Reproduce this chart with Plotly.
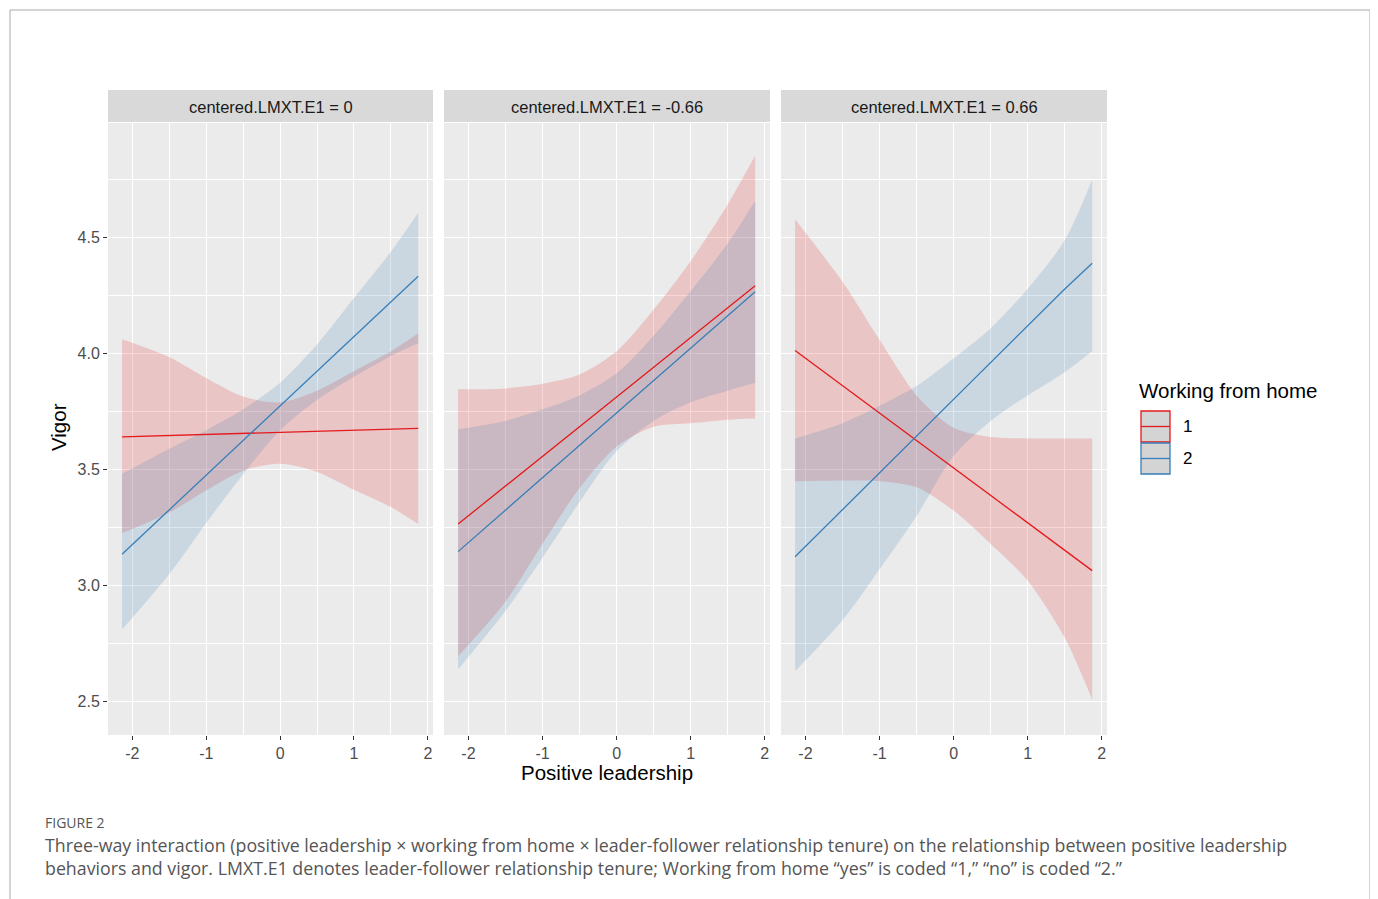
import plotly.graph_objects as go

# ---------------- data ----------------
x_vals = [-2.14, -1.5, -1.0, -0.5, 0.0, 0.5, 1.0, 1.5, 1.87]
panel_labels = ["centered.LMXT.E1 = 0", "centered.LMXT.E1 = -0.66", "centered.LMXT.E1 = 0.66"]
groups = ["1", "2"]

p1_red_fit = [3.641, 3.647, 3.651, 3.656, 3.660, 3.665, 3.669, 3.674, 3.678]
p1_red_lo = [3.225, 3.315, 3.410, 3.495, 3.525, 3.490, 3.413, 3.338, 3.265]
p1_red_hi = [4.062, 3.985, 3.895, 3.815, 3.790, 3.840, 3.925, 4.010, 4.088]
p1_blue_fit = [3.135, 3.326, 3.476, 3.625, 3.774, 3.923, 4.073, 4.222, 4.334]
p1_blue_lo = [2.810, 3.050, 3.270, 3.480, 3.670, 3.800, 3.900, 3.990, 4.045]
p1_blue_hi = [3.482, 3.590, 3.670, 3.760, 3.875, 4.040, 4.240, 4.440, 4.608]

p2_red_fit = [3.265, 3.428, 3.557, 3.685, 3.813, 3.941, 4.070, 4.198, 4.293]
p2_red_lo = [2.695, 2.930, 3.180, 3.420, 3.600, 3.685, 3.700, 3.715, 3.720]
p2_red_hi = [3.846, 3.850, 3.870, 3.910, 4.010, 4.190, 4.400, 4.645, 4.855]
p2_blue_fit = [3.146, 3.325, 3.465, 3.605, 3.745, 3.885, 4.025, 4.164, 4.267]
p2_blue_lo = [2.638, 2.890, 3.120, 3.360, 3.580, 3.710, 3.790, 3.840, 3.874]
p2_blue_hi = [3.674, 3.710, 3.760, 3.820, 3.915, 4.077, 4.270, 4.476, 4.660]

p3_red_fit = [4.014, 3.862, 3.743, 3.624, 3.505, 3.386, 3.268, 3.149, 3.064]
p3_red_lo = [3.450, 3.453, 3.450, 3.424, 3.323, 3.179, 3.020, 2.774, 2.507]
p3_red_hi = [4.580, 4.310, 4.060, 3.820, 3.680, 3.640, 3.634, 3.634, 3.634]
p3_blue_fit = [3.124, 3.327, 3.486, 3.644, 3.803, 3.962, 4.120, 4.279, 4.390]
p3_blue_lo = [2.630, 2.850, 3.070, 3.300, 3.560, 3.710, 3.820, 3.920, 4.010]
p3_blue_hi = [3.634, 3.700, 3.775, 3.860, 3.980, 4.110, 4.280, 4.490, 4.750]

x_ticks = [-2, -1, 0, 1, 2]
y_ticks = [2.5, 3.0, 3.5, 4.0, 4.5]
y_tick_labels = ["2.5", "3.0", "3.5", "4.0", "4.5"]

panels = [
    (p1_red_fit, p1_red_lo, p1_red_hi, p1_blue_fit, p1_blue_lo, p1_blue_hi),
    (p2_red_fit, p2_red_lo, p2_red_hi, p2_blue_fit, p2_blue_lo, p2_blue_hi),
    (p3_red_fit, p3_red_lo, p3_red_hi, p3_blue_fit, p3_blue_lo, p3_blue_hi),
]

# ---------------- styling ----------------
OFF = 8            # page body margin in the browser
W, H = 1378 - OFF, 899 - OFF
RED = "#E41A1C"
BLUE = "#377EB8"
RED_FILL = "rgba(228,26,28,0.18)"
BLUE_FILL = "rgba(55,126,184,0.18)"
FONT = "Liberation Sans, Arial, sans-serif"


def px(x):
    return (x - OFF) / W


def py(y):
    return 1 - (y - OFF) / H


panel_x = [(108, 433), (444, 770), (781, 1107)]
panel_top, panel_bot = 123, 735
strip_top = 90

fig = go.Figure()

for i, (rf, rlo, rhi, bf, blo, bhi) in enumerate(panels):
    ax = "" if i == 0 else str(i + 1)
    xa, ya = "x" + ax, "y" + ax
    for lo, hi, fill in [(rlo, rhi, RED_FILL), (blo, bhi, BLUE_FILL)]:
        fig.add_trace(go.Scatter(x=x_vals, y=lo, xaxis=xa, yaxis=ya, mode="lines",
                                 line=dict(width=0, shape="spline", smoothing=0.8),
                                 showlegend=False, hoverinfo="skip"))
        fig.add_trace(go.Scatter(x=x_vals, y=hi, xaxis=xa, yaxis=ya, mode="lines",
                                 line=dict(width=0, shape="spline", smoothing=0.8),
                                 fill="tonexty", fillcolor=fill,
                                 showlegend=False, hoverinfo="skip"))
    for fit, col, name in [(rf, RED, groups[0]), (bf, BLUE, groups[1])]:
        fig.add_trace(go.Scatter(x=x_vals, y=fit, xaxis=xa, yaxis=ya, mode="lines",
                                 line=dict(color=col, width=1.3), name=name,
                                 showlegend=False))

axis_common = dict(showgrid=True, gridcolor="white", gridwidth=1.4, zeroline=False,
                   showline=False, ticks="outside", ticklen=4, tickcolor="#333333",
                   tickwidth=1, tickfont=dict(family=FONT, size=16, color="#4D4D4D"))

layout = dict(width=W, height=H, margin=dict(l=0, r=0, t=0, b=0),
              paper_bgcolor="white", plot_bgcolor="#EBEBEB", showlegend=False,
              font=dict(family=FONT))

for i, (x0, x1) in enumerate(panel_x):
    ax = "" if i == 0 else str(i + 1)
    layout["xaxis" + ax] = dict(axis_common, domain=[px(x0), px(x1)], range=[-2.33, 2.07],
                                tickvals=x_ticks, ticktext=[str(t) for t in x_ticks],
                                anchor="y" + ax,
                                minor=dict(dtick=0.5, tick0=0, showgrid=True,
                                           gridcolor="white", gridwidth=0.7, ticks=""))
    layout["yaxis" + ax] = dict(axis_common, domain=[py(panel_bot), py(panel_top)],
                                range=[2.355, 4.995], tickvals=y_ticks,
                                ticktext=y_tick_labels, showticklabels=(i == 0),
                                ticks="outside" if i == 0 else "",
                                anchor="x" + ax,
                                minor=dict(dtick=0.25, tick0=0, showgrid=True,
                                           gridcolor="white", gridwidth=0.7, ticks=""))

fig.update_layout(**layout)

shapes = []
annotations = []

# facet strips
for i, (x0, x1) in enumerate(panel_x):
    shapes.append(dict(type="rect", xref="paper", yref="paper", x0=px(x0), x1=px(x1),
                       y0=py(panel_top - 1), y1=py(strip_top), fillcolor="#D9D9D9",
                       line=dict(width=0), layer="below"))
    annotations.append(dict(xref="paper", yref="paper", x=px((x0 + x1) / 2),
                            y=py((strip_top + panel_top) / 2), text=panel_labels[i],
                            showarrow=False, xanchor="center", yanchor="middle",
                            font=dict(family=FONT, size=16.5, color="#1A1A1A")))

# axis titles
annotations.append(dict(xref="paper", yref="paper", x=px(607), y=py(772),
                        text="Positive leadership", showarrow=False,
                        xanchor="center", yanchor="middle",
                        font=dict(family=FONT, size=20.5, color="#000000")))
annotations.append(dict(xref="paper", yref="paper", x=px(58), y=py(427),
                        text="Vigor", showarrow=False, textangle=-90,
                        xanchor="center", yanchor="middle",
                        font=dict(family=FONT, size=20.5, color="#000000")))

# legend (drawn manually, ggplot style)
annotations.append(dict(xref="paper", yref="paper", x=px(1137), y=py(391),
                        text="Working from home", showarrow=False,
                        xanchor="left", yanchor="middle",
                        font=dict(family=FONT, size=20.5, color="#000000")))
for k, (col, lab) in enumerate([(RED, groups[0]), (BLUE, groups[1])]):
    y0 = 411 + k * 32
    y1 = y0 + 31
    shapes.append(dict(type="rect", xref="paper", yref="paper", x0=px(1141), x1=px(1170),
                       y0=py(y1), y1=py(y0), fillcolor="#D4D4D4",
                       line=dict(color=col, width=1.3), opacity=1))
    shapes.append(dict(type="line", xref="paper", yref="paper", x0=px(1141), x1=px(1170),
                       y0=py((y0 + y1) / 2), y1=py((y0 + y1) / 2),
                       line=dict(color=col, width=1.3)))
    annotations.append(dict(xref="paper", yref="paper", x=px(1181), y=py((y0 + y1) / 2),
                            text=lab, showarrow=False, xanchor="left", yanchor="middle",
                            font=dict(family=FONT, size=17, color="#000000")))

# outer frame
shapes.append(dict(type="rect", xref="paper", yref="paper", x0=px(10), x1=px(1370),
                   y0=-0.05, y1=py(10), line=dict(color="#AAAAAA", width=1),
                   fillcolor="rgba(0,0,0,0)", layer="below"))

# caption
CAP_FONT = "Open Sans, Noto Sans, sans-serif"
annotations.append(dict(xref="paper", yref="paper", x=px(43), y=py(822),
                        text="FIGURE 2", showarrow=False, xanchor="left", yanchor="middle",
                        font=dict(family=CAP_FONT, size=14, color="#555555")))
annotations.append(dict(xref="paper", yref="paper", x=px(43), y=py(845),
                        text="Three-way interaction (positive leadership \u00d7 working from home \u00d7 leader-follower relationship tenure) on the relationship between positive leadership",
                        showarrow=False, xanchor="left", yanchor="middle",
                        font=dict(family=CAP_FONT, size=17.8, color="#555555")))
annotations.append(dict(xref="paper", yref="paper", x=px(43), y=py(868),
                        text="behaviors and vigor. LMXT.E1 denotes leader-follower relationship tenure; Working from home \u201cyes\u201d is coded \u201c1,\u201d \u201cno\u201d is coded \u201c2.\u201d",
                        showarrow=False, xanchor="left", yanchor="middle",
                        font=dict(family=CAP_FONT, size=17.8, color="#555555")))

fig.update_layout(shapes=shapes, annotations=annotations)
fig.write_html("out.html")
